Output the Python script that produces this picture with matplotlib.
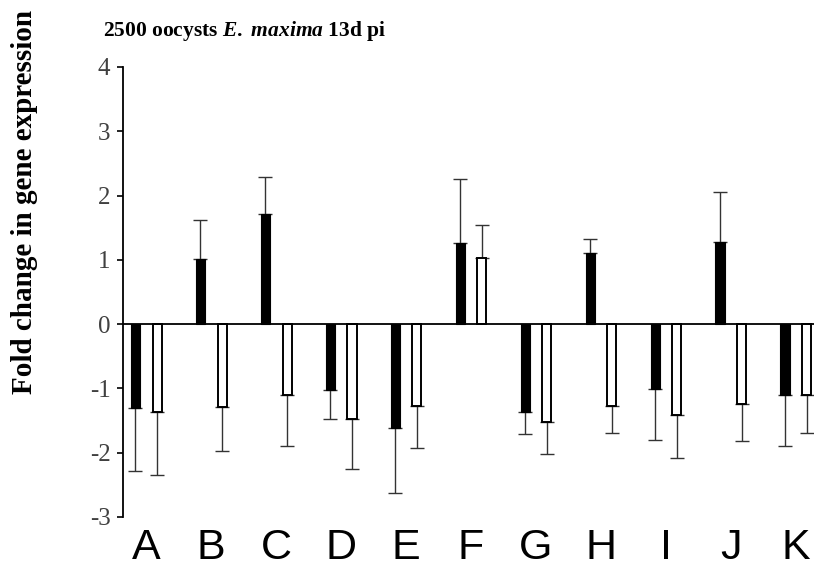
import matplotlib.pyplot as plt
import numpy as np

genes = list('ABCDEFGHIJK')
black_vals = [-1.30, 1.02, 1.71, -1.03, -1.62, 1.26, -1.37, 1.10, -1.01, 1.28, -1.11]
black_err = [0.98, 0.60, 0.58, 0.45, 1.00, 1.00, 0.34, 0.22, 0.80, 0.78, 0.79]
white_vals = [-1.37, -1.29, -1.11, -1.47, -1.27, 1.03, -1.53, -1.28, -1.41, -1.25, -1.11]
white_err = [0.97, 0.68, 0.79, 0.79, 0.66, 0.51, 0.49, 0.41, 0.67, 0.57, 0.59]
yticks = [-3, -2, -1, 0, 1, 2, 3, 4]

plt.rcParams['mathtext.fontset'] = 'custom'
plt.rcParams['mathtext.rm'] = 'Liberation Serif:bold'
plt.rcParams['mathtext.it'] = 'Liberation Serif:bold:italic'

fig = plt.figure(figsize=(8.14, 5.75), dpi=100)
ax = fig.add_axes([0.151, 0.1009, 0.849, 0.7826])

x = np.arange(len(genes))
off = 0.167
w = 0.14
errc = '#333333'


def one_sided(vals, err):
    vals = np.asarray(vals)
    err = np.asarray(err)
    lo = np.where(vals < 0, err, 0)
    hi = np.where(vals >= 0, err, 0)
    return [lo, hi]


ax.bar(x - off, black_vals, w, color='black', edgecolor='black', lw=0.8, zorder=3)
ax.bar(x + off, white_vals, w, color='white', edgecolor='black', lw=1.4, zorder=3)
ax.errorbar(x - off, black_vals, yerr=one_sided(black_vals, black_err), fmt='none',
            ecolor=errc, elinewidth=1.0, capsize=5, capthick=1.0, zorder=2)
ax.errorbar(x + off, white_vals, yerr=one_sided(white_vals, white_err), fmt='none',
            ecolor=errc, elinewidth=1.0, capsize=5, capthick=1.0, zorder=2)

ax.axhline(0, color='black', lw=1.3, zorder=4)
ax.set_ylim(-3, 4)
ax.set_xlim(-0.36, 10.28)
ax.set_yticks(yticks)
ax.set_yticklabels([str(t) for t in yticks], family='Liberation Serif',
                   fontsize=18, color='#404040')
ax.tick_params(axis='y', direction='out', length=4, width=1.2, pad=5)
ax.set_xticks(x)
ax.set_xticklabels(genes, family='Liberation Sans', fontsize=31)
ax.tick_params(axis='x', length=0, pad=8)

for s in ('top', 'right', 'bottom'):
    ax.spines[s].set_visible(False)
ax.spines['left'].set_linewidth(1.3)

fig.text(0.030, 0.648, 'Fold change in gene expression', rotation=90,
         ha='center', va='center', family='Liberation Serif', weight='bold',
         fontsize=21)
fig.text(0.301, 0.946, r'2500 oocysts $\mathit{E.}$ $\mathit{maxima}$ 13d pi',
         ha='center', va='center', family='Liberation Serif', weight='bold',
         fontsize=15.5)

fig.savefig('out.png')
